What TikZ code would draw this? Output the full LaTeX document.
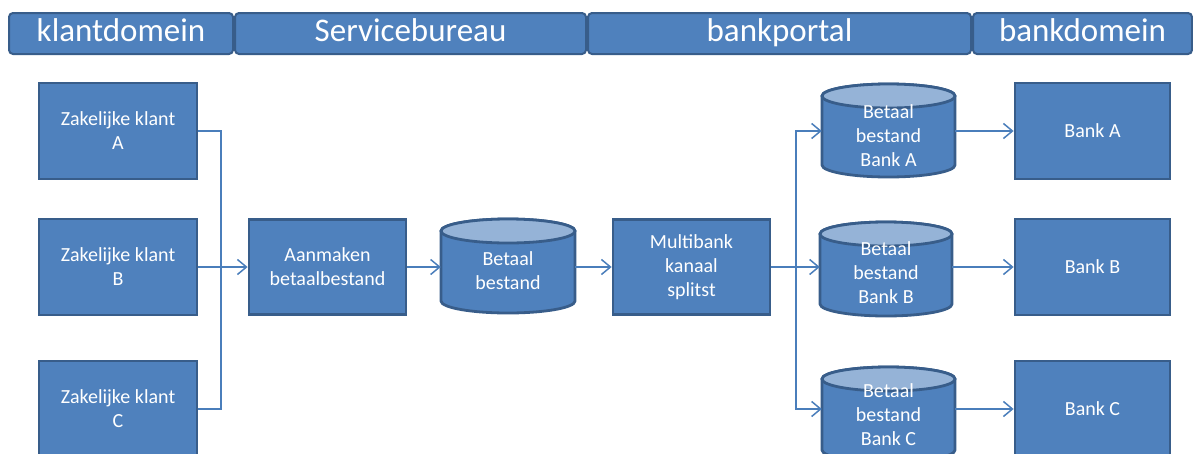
\documentclass[tikz,border=0pt]{standalone}
\usepackage{fontspec}
\setmainfont{Carlito}
\usetikzlibrary{arrows.meta}
\definecolor{ofill}{HTML}{4F81BD}
\definecolor{oline}{HTML}{385D8A}
\definecolor{otop}{HTML}{95B3D7}
\definecolor{oconn}{HTML}{4A7EBB}
\tikzset{
  header/.style={draw=oline, line width=2pt, fill=ofill, rounded corners=4pt,
    text=white, font=\fontsize{33}{36}\selectfont, inner sep=0pt, anchor=north west,
    text height=23pt, text depth=7pt},
  stepbox/.style={draw=oline, line width=2.8pt, fill=ofill, text=white,
    font=\fontsize{20}{24}\selectfont, align=center, inner sep=0pt},
  boxtext/.style={text=white, font=\fontsize{20}{24}\selectfont, align=center, inner sep=0pt},
  cylbody/.style={draw=oline, line width=2.8pt, fill=ofill},
  cyltop/.style={draw=oline, line width=2.8pt, fill=otop},
  cylframe/.style={inner sep=0pt, draw=none},
  conn/.style={draw=oconn, line width=1.5pt},
  arr/.style={conn, -{Straight Barb[length=9pt,width=15pt,line width=1.5pt]}}
}
% storage cylinder: name, left, top, right, bottom, text centre y, text
\newcommand\dbcyl[7]{%
  \pgfmathsetmacro\cylcx{(#2+#4)/2}%
  \pgfmathsetmacro\cylrx{(#4-#2)/2}%
  \path[cylbody] (#2,#3+12) -- (#2,#5-12)
    arc[start angle=180,end angle=0,x radius=\cylrx,y radius=12]
    -- (#4,#3+12)
    arc[start angle=0,end angle=-180,x radius=\cylrx,y radius=12] -- cycle;
  \draw[cyltop] (\cylcx,#3+12) ellipse[x radius=\cylrx,y radius=12];
  \node[cylframe, minimum width=#4-#2, minimum height=#5-#3] (#1) at (\cylcx,{(#3+#5)/2}) {};
  \node[boxtext] at (\cylcx,#6) {#7};
}
\begin{document}
\begin{tikzpicture}[x=1pt,y=-1pt]
\useasboundingbox (0,0) rectangle (1193,453);

% domain headers
\node[header, minimum width=224pt, minimum height=41pt] (h1) at (8,12) {klantdomein};
\node[header, minimum width=351pt, minimum height=41pt] (h2) at (234,12) {Servicebureau};
\node[header, minimum width=383pt, minimum height=41pt] (h3) at (587,12) {bankportal};
\node[header, minimum width=219pt, minimum height=41pt] (h4) at (972,12) {bankdomein};

% business clients
\node[stepbox, minimum width=158pt, minimum height=96pt] (kA) at (118,131) {Zakelijke klant\\A};
\node[stepbox, minimum width=158pt, minimum height=96pt] (kB) at (118,267) {Zakelijke klant\\B};
\node[stepbox, minimum width=158pt, minimum height=96pt] (kC) at (118,409) {Zakelijke klant\\C};

% service bureau
\node[stepbox, minimum width=157pt, minimum height=95pt] (aan) at (327.5,267) {Aanmaken\\betaalbestand};
\dbcyl{file}{441}{219}{575}{313}{271}{Betaal\\bestand}

% bank portal
\node[stepbox, minimum width=157pt, minimum height=95pt] (mb) at (691.5,267) {Multibank\\kanaal\\splitst};
\dbcyl{fA}{822}{84}{955}{177}{136}{Betaal\\bestand\\Bank A}
\dbcyl{fB}{820}{222}{952}{316}{273}{Betaal\\bestand\\Bank B}
\dbcyl{fC}{822}{367}{955}{462}{415}{Betaal\\bestand\\Bank C}

% banks
\node[stepbox, minimum width=155pt, minimum height=96pt] (bA) at (1092.5,131) {Bank A};
\node[stepbox, minimum width=155pt, minimum height=96pt] (bB) at (1092.5,267) {Bank B};
\node[stepbox, minimum width=155pt, minimum height=96pt] (bC) at (1092.5,409) {Bank C};

% connectors
\coordinate (j1) at (221,267);
\coordinate (j2) at (796,267);
\draw[conn] (kA.east) -| (j1);
\draw[conn] (kC.east) -| (j1);
\draw[arr] (kB.east) -- (aan.west);
\draw[arr] (aan.east) -- (file.west |- aan.east);
\draw[arr] (file.east |- mb.west) -- (mb.west);
\draw[arr] (mb.east) -- (fB.west |- mb.east);
\draw[arr] (j2) |- (fA.west |- bA.west);
\draw[arr] (j2) |- (fC.west |- bC.west);
\draw[arr] (fA.east |- bA.west) -- (bA.west);
\draw[arr] (fB.east |- bB.west) -- (bB.west);
\draw[arr] (fC.east |- bC.west) -- (bC.west);
\end{tikzpicture}
\end{document}
